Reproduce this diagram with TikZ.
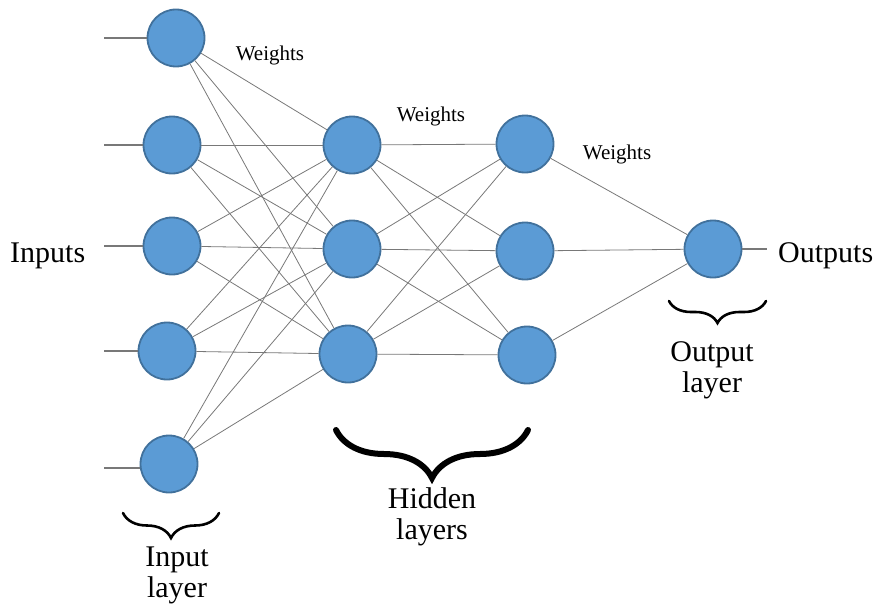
\documentclass[tikz,border=0pt]{standalone}
\usepackage{fontspec}
\setmainfont{Liberation Serif}
\usetikzlibrary{decorations.pathreplacing}
\definecolor{nfill}{RGB}{91,155,213}
\definecolor{nedge}{RGB}{65,113,156}
\definecolor{wire}{RGB}{120,120,120}
\begin{document}
\begin{tikzpicture}[x=1pt,y=-1pt,
  neuron/.style={circle,fill=nfill,draw=nedge,line width=1.8pt,minimum size=57pt,inner sep=0pt},
  wireline/.style={draw=wire,line width=0.8pt},
  stub/.style={draw=wire,line width=1.1pt},
  biglabel/.style={font=\fontsize{30}{31}\selectfont,align=center,inner sep=0pt},
  wlabel/.style={font=\fontsize{21}{22}\selectfont,inner sep=0pt},
  bracepath/.style={decorate,decoration={brace,mirror,amplitude=#1},line cap=round}]
\useasboundingbox (0,0) rectangle (880,610);
% input layer
\node[neuron] (i1) at (176,38) {};
\node[neuron] (i2) at (172,145) {};
\node[neuron] (i3) at (172,246) {};
\node[neuron] (i4) at (167,351) {};
\node[neuron] (i5) at (169,464) {};
% hidden layers
\node[neuron] (h1) at (352,145) {};
\node[neuron] (h2) at (352,249) {};
\node[neuron] (h3) at (348,354) {};
\node[neuron] (g1) at (525,144) {};
\node[neuron] (g2) at (525,251) {};
\node[neuron] (g3) at (527,355) {};
% output
\node[neuron] (o1) at (713,249) {};
% connections
\foreach \a in {i1,i2,i3,i4,i5}{
  \foreach \b in {h1,h2,h3}{
    \path[wireline] (\a) -- (\b);
  }
}
\foreach \a in {h1,h2,h3}{
  \foreach \b in {g1,g2,g3}{
    \path[wireline] (\a) -- (\b);
  }
}
\foreach \a in {g1,g2,g3}{
  \path[wireline] (\a) -- (o1);
}
% input stubs
\coordinate (s1) at (104,38);
\coordinate (s2) at (104,145);
\coordinate (s3) at (104,246);
\coordinate (s4) at (104,351);
\coordinate (s5) at (104,468);
\path[stub] (s1) -- (s1 -| i1.west);
\path[stub] (s2) -- (s2 -| i2.west);
\path[stub] (s3) -- (s3 -| i3.west);
\path[stub] (s4) -- (s4 -| i4.west);
\path[stub] (s5) -- (s5 -| i5.west);
\coordinate (oe) at (767,249);
\path[stub] (o1.east) -- (oe);
% labels
\node[biglabel,anchor=west] (inl) at (10,256) {Inputs};
\node[biglabel,anchor=west] (outl) at (778,256) {Outputs};
\node[wlabel] (w1) at (270,55) {Weights};
\node[wlabel] (w2) at (431,116) {Weights};
\node[wlabel] (w3) at (617,154) {Weights};
% braces
\draw[bracepath=25,line width=2.6pt] (123,513) -- (219,513);
\draw[bracepath=48,line width=6pt] (336,430) -- (528,430);
\draw[bracepath=22,line width=2.6pt] (669,301) -- (766,301);
\node[biglabel] (il) at (177,575) {Input\\layer};
\node[biglabel] (hl) at (432,517) {Hidden\\layers};
\node[biglabel] (ol) at (712,370) {Output\\layer};
\end{tikzpicture}
\end{document}
